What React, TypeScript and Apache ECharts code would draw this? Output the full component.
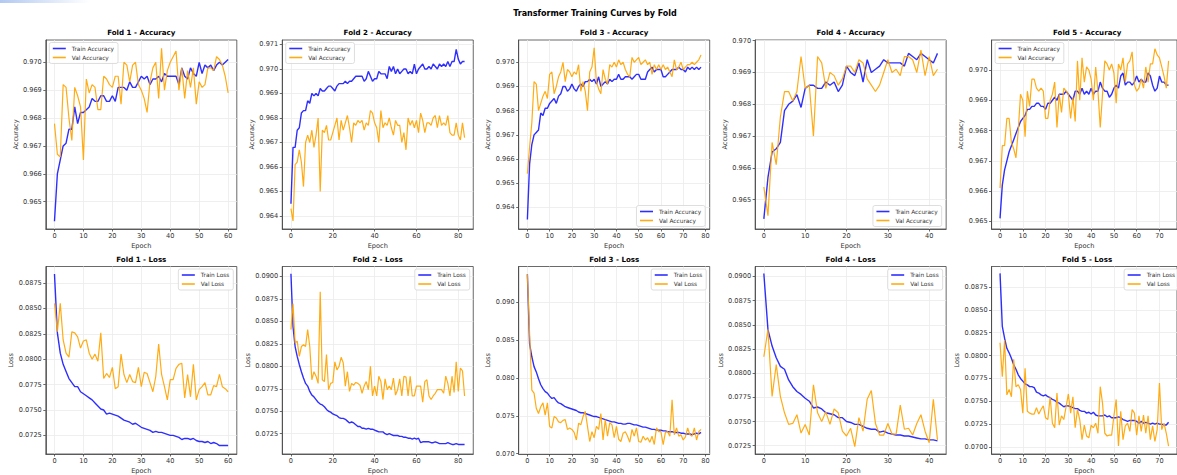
import React, { useEffect, useRef } from "react";
import * as echarts from "echarts";

// ---------------- data ----------------
const acc1Train = [0.9643,0.9660,0.9665,0.9670,0.9671,0.9676,0.9676,0.9684,0.9678,0.9682,
0.9682,0.9683,0.9684,0.9687,0.9686,0.9686,0.9688,0.9688,0.9686,0.9686,
0.9688,0.9686,0.9691,0.9691,0.9691,0.9690,0.9693,0.9691,0.9691,0.9693,
0.9695,0.9694,0.9695,0.9692,0.9694,0.9694,0.9695,0.9693,0.9696,0.9695,
0.9695,0.9695,0.9695,0.9692,0.9698,0.9695,0.9694,0.9698,0.9696,0.9695,
0.9700,0.9696,0.9699,0.9698,0.9699,0.9697,0.9699,0.9700,0.9699,0.9700,0.9701];
const acc1Val = [0.9678,0.9667,0.9666,0.9692,0.9691,0.9680,0.9672,0.9691,0.9688,0.9684,
0.9665,0.9694,0.9689,0.9692,0.9691,0.9683,0.9683,0.9695,0.9694,0.9692,
0.9691,0.9695,0.9695,0.9685,0.9700,0.9699,0.9693,0.9699,0.9700,0.9692,
0.9690,0.9687,0.9682,0.9693,0.9698,0.9700,0.9687,0.9705,0.9690,0.9697,
0.9700,0.9702,0.9704,0.9690,0.9698,0.9687,0.9697,0.9691,0.9698,0.9685,
0.9693,0.9691,0.9692,0.9698,0.9698,0.9697,0.9702,0.9701,0.9699,0.9695,0.9689];
const loss1Train = [0.0884,0.0826,0.0806,0.0795,0.0788,0.0781,0.0777,0.0773,0.0773,0.0768,
0.0766,0.0764,0.0762,0.0760,0.0757,0.0754,0.0751,0.0750,0.0746,0.0747,
0.0746,0.0745,0.0744,0.0742,0.0740,0.0739,0.0738,0.0736,0.0737,0.0735,
0.0733,0.0732,0.0731,0.0730,0.0728,0.0729,0.0728,0.0728,0.0727,0.0726,
0.0725,0.0725,0.0724,0.0723,0.0721,0.0722,0.0722,0.0721,0.0722,0.0720,
0.0719,0.0719,0.0718,0.0719,0.0717,0.0718,0.0717,0.0715,0.0715,0.0715,0.0715];
const loss1Val = [0.0855,0.0827,0.0855,0.0819,0.0806,0.0802,0.0827,0.0826,0.0822,0.0811,
0.0818,0.0819,0.0806,0.0800,0.0805,0.0798,0.0826,0.0781,0.0786,0.0782,
0.0792,0.0771,0.0773,0.0805,0.0785,0.0777,0.0785,0.0778,0.0777,0.0792,
0.0773,0.0787,0.0786,0.0777,0.0768,0.0783,0.0815,0.0785,0.0773,0.0760,
0.0780,0.0780,0.0791,0.0795,0.0796,0.0762,0.0785,0.0763,0.0795,0.0760,
0.0770,0.0773,0.0777,0.0765,0.0765,0.0774,0.0773,0.0785,0.0773,0.0771,0.0768];

const acc2Train = [0.9645,0.9668,0.9668,0.9675,0.9676,0.9682,0.9683,0.9683,0.9687,0.9686,
0.9690,0.9689,0.9690,0.9689,0.9692,0.9691,0.9691,0.9692,0.9693,0.9693,
0.9692,0.9691,0.9693,0.9694,0.9694,0.9694,0.9695,0.9694,0.9695,0.9695,
0.9696,0.9697,0.9697,0.9697,0.9697,0.9695,0.9696,0.9699,0.9697,0.9695,
0.9696,0.9696,0.9699,0.9698,0.9698,0.9698,0.9696,0.9701,0.9699,0.9701,
0.9698,0.9700,0.9698,0.9699,0.9700,0.9700,0.9698,0.9699,0.9698,0.9702,
0.9698,0.9700,0.9701,0.9702,0.9700,0.9700,0.9701,0.9700,0.9702,0.9701,
0.9700,0.9702,0.9701,0.9702,0.9701,0.9703,0.9701,0.9703,0.9703,0.9708,
0.9704,0.9702,0.9703,0.9703];
const acc2Val = [0.9643,0.9638,0.9661,0.9662,0.9667,0.9662,0.9652,0.9670,0.9673,0.9670,
0.9675,0.9668,0.9673,0.9680,0.9650,0.9675,0.9674,0.9677,0.9671,0.9671,
0.9674,0.9677,0.9680,0.9671,0.9679,0.9675,0.9678,0.9681,0.9676,0.9670,
0.9678,0.9677,0.9679,0.9678,0.9679,0.9675,0.9678,0.9677,0.9683,0.9682,
0.9678,0.9676,0.9670,0.9683,0.9676,0.9678,0.9677,0.9680,0.9676,0.9673,
0.9679,0.9677,0.9677,0.9670,0.9674,0.9667,0.9680,0.9677,0.9679,0.9676,
0.9679,0.9674,0.9682,0.9679,0.9674,0.9678,0.9678,0.9677,0.9680,0.9681,
0.9676,0.9681,0.9677,0.9678,0.9677,0.9681,0.9674,0.9673,0.9673,0.9678,
0.9673,0.9671,0.9678,0.9672];
const loss2Train = [0.0903,0.0844,0.0822,0.0811,0.0802,0.0794,0.0787,0.0781,0.0778,0.0772,
0.0768,0.0766,0.0763,0.0760,0.0758,0.0757,0.0755,0.0752,0.0750,0.0749,
0.0747,0.0746,0.0745,0.0743,0.0742,0.0742,0.0741,0.0739,0.0737,0.0738,
0.0737,0.0735,0.0733,0.0733,0.0731,0.0731,0.0730,0.0731,0.0730,0.0730,
0.0729,0.0728,0.0727,0.0727,0.0727,0.0725,0.0724,0.0725,0.0724,0.0723,
0.0723,0.0723,0.0722,0.0722,0.0721,0.0721,0.0720,0.0720,0.0719,0.0720,
0.0719,0.0720,0.0715,0.0716,0.0716,0.0716,0.0716,0.0715,0.0715,0.0716,
0.0715,0.0714,0.0714,0.0714,0.0714,0.0715,0.0714,0.0713,0.0713,0.0714,
0.0713,0.0713,0.0713,0.0713];
const loss2Val = [0.0841,0.0870,0.0826,0.0828,0.0811,0.0822,0.0824,0.0822,0.0841,0.0822,
0.0785,0.0794,0.0789,0.0781,0.0883,0.0785,0.0783,0.0813,0.0774,0.0781,
0.0782,0.0805,0.0796,0.0800,0.0810,0.0804,0.0778,0.0794,0.0772,0.0781,
0.0779,0.0782,0.0781,0.0779,0.0770,0.0778,0.0783,0.0774,0.0800,0.0767,
0.0778,0.0767,0.0789,0.0783,0.0763,0.0786,0.0774,0.0778,0.0774,0.0787,
0.0768,0.0774,0.0786,0.0767,0.0789,0.0788,0.0767,0.0789,0.0767,0.0767,
0.0778,0.0778,0.0778,0.0760,0.0783,0.0785,0.0767,0.0763,0.0767,0.0770,
0.0774,0.0774,0.0774,0.0770,0.0789,0.0781,0.0767,0.0789,0.0771,0.0805,
0.0772,0.0798,0.0795,0.0767];

const acc3Train = [0.9635,0.9658,0.9666,0.9670,0.9671,0.9672,0.9679,0.9678,0.9681,0.9681,
0.9683,0.9684,0.9685,0.9683,0.9686,0.9687,0.9690,0.9690,0.9688,0.9689,
0.9691,0.9689,0.9688,0.9690,0.9691,0.9690,0.9692,0.9692,0.9693,0.9692,
0.9693,0.9691,0.9694,0.9690,0.9691,0.9692,0.9691,0.9693,0.9692,0.9693,
0.9693,0.9695,0.9693,0.9693,0.9694,0.9694,0.9694,0.9693,0.9694,0.9695,
0.9695,0.9693,0.9693,0.9693,0.9696,0.9697,0.9698,0.9696,0.9697,0.9697,
0.9697,0.9694,0.9694,0.9695,0.9696,0.9697,0.9697,0.9697,0.9698,0.9697,
0.9697,0.9696,0.9698,0.9697,0.9698,0.9697,0.9698,0.9697,0.9698];
const acc3Val = [0.9654,0.9665,0.9675,0.9692,0.9691,0.9680,0.9683,0.9686,0.9688,0.9685,
0.9695,0.9696,0.9687,0.9690,0.9694,0.9696,0.9700,0.9692,0.9697,0.9696,
0.9694,0.9696,0.9695,0.9699,0.9688,0.9692,0.9688,0.9680,0.9696,0.9698,
0.9706,0.9692,0.9689,0.9687,0.9697,0.9693,0.9691,0.9699,0.9698,0.9700,
0.9698,0.9701,0.9699,0.9700,0.9697,0.9695,0.9694,0.9702,0.9700,0.9701,
0.9702,0.9699,0.9700,0.9701,0.9699,0.9700,0.9695,0.9699,0.9697,0.9699,
0.9697,0.9699,0.9697,0.9698,0.9696,0.9694,0.9701,0.9697,0.9698,0.9700,
0.9697,0.9698,0.9699,0.9699,0.9700,0.9699,0.9700,0.9701,0.9703];
const loss3Train = [0.0937,0.0845,0.0828,0.0815,0.0808,0.0799,0.0791,0.0786,0.0782,0.0780,
0.0776,0.0773,0.0774,0.0770,0.0767,0.0766,0.0764,0.0762,0.0761,0.0760,
0.0759,0.0758,0.0757,0.0755,0.0754,0.0754,0.0753,0.0752,0.0751,0.0750,
0.0749,0.0749,0.0748,0.0747,0.0746,0.0745,0.0744,0.0743,0.0742,0.0742,
0.0741,0.0740,0.0740,0.0739,0.0739,0.0740,0.0740,0.0739,0.0738,0.0738,
0.0737,0.0736,0.0735,0.0735,0.0734,0.0733,0.0732,0.0732,0.0731,0.0731,
0.0731,0.0730,0.0730,0.0729,0.0729,0.0729,0.0728,0.0728,0.0728,0.0727,
0.0727,0.0726,0.0726,0.0726,0.0725,0.0726,0.0727,0.0726,0.0728];
const loss3Val = [0.0937,0.0858,0.0784,0.0780,0.0760,0.0753,0.0762,0.0767,0.0751,0.0767,
0.0736,0.0734,0.0749,0.0747,0.0742,0.0741,0.0744,0.0745,0.0732,0.0734,
0.0732,0.0728,0.0718,0.0740,0.0738,0.0749,0.0756,0.0736,0.0716,0.0729,
0.0721,0.0736,0.0732,0.0753,0.0718,0.0745,0.0723,0.0741,0.0738,0.0721,
0.0736,0.0719,0.0716,0.0727,0.0729,0.0723,0.0715,0.0732,0.0723,0.0734,
0.0716,0.0715,0.0723,0.0718,0.0721,0.0715,0.0723,0.0712,0.0734,0.0729,
0.0729,0.0712,0.0728,0.0729,0.0723,0.0771,0.0725,0.0734,0.0723,0.0725,
0.0718,0.0722,0.0734,0.0725,0.0723,0.0734,0.0718,0.0729,0.0732];

const acc4Train = [0.9644,0.9657,0.9665,0.9666,0.9668,0.9678,0.9680,0.9681,0.9683,0.9679,
0.9685,0.9686,0.9686,0.9685,0.9685,0.9687,0.9686,0.9687,0.9684,0.9686,
0.9692,0.9690,0.9689,0.9693,0.9687,0.9694,0.9690,0.9691,0.9692,0.9694,
0.9693,0.9693,0.9693,0.9693,0.9692,0.9696,0.9695,0.9694,0.9696,0.9695,
0.9694,0.9693,0.9696];
const acc4Val = [0.9654,0.9645,0.9668,0.9661,0.9676,0.9684,0.9684,0.9681,0.9684,0.9695,
0.9685,0.9686,0.9670,0.9695,0.9693,0.9685,0.9690,0.9689,0.9686,0.9688,
0.9692,0.9692,0.9690,0.9694,0.9693,0.9688,0.9686,0.9684,0.9686,0.9690,
0.9694,0.9690,0.9691,0.9689,0.9695,0.9695,0.9694,0.9690,0.9697,0.9689,
0.9695,0.9689,0.9691];
const loss4Train = [0.0903,0.0845,0.0828,0.0816,0.0807,0.0804,0.0793,0.0786,0.0781,0.0778,
0.0774,0.0771,0.0764,0.0765,0.0763,0.0759,0.0758,0.0757,0.0754,0.0754,
0.0750,0.0749,0.0747,0.0747,0.0745,0.0743,0.0742,0.0742,0.0739,0.0740,
0.0738,0.0737,0.0736,0.0736,0.0735,0.0735,0.0734,0.0733,0.0732,0.0732,
0.0731,0.0731,0.0730];
const loss4Val = [0.0817,0.0845,0.0776,0.0809,0.0776,0.0759,0.0747,0.0748,0.0757,0.0738,
0.0747,0.0736,0.0788,0.0759,0.0750,0.0760,0.0747,0.0763,0.0759,0.0740,
0.0735,0.0743,0.0724,0.0754,0.0740,0.0773,0.0782,0.0748,0.0736,0.0736,
0.0748,0.0737,0.0737,0.0767,0.0742,0.0743,0.0736,0.0748,0.0757,0.0740,
0.0728,0.0773,0.0731];

const acc5Train = [0.9651,0.9662,0.9667,0.9670,0.9673,0.9675,0.9677,0.9679,0.9681,0.9683,
0.9684,0.9685,0.9687,0.9687,0.9688,0.9688,0.9689,0.9689,0.9688,0.9688,
0.9687,0.9689,0.9689,0.9690,0.9691,0.9690,0.9692,0.9692,0.9692,0.9693,
0.9692,0.9691,0.9690,0.9693,0.9693,0.9692,0.9694,0.9692,0.9693,0.9692,
0.9694,0.9692,0.9693,0.9693,0.9696,0.9694,0.9693,0.9693,0.9691,0.9692,
0.9694,0.9695,0.9694,0.9698,0.9699,0.9695,0.9696,0.9696,0.9695,0.9696,
0.9698,0.9696,0.9697,0.9696,0.9696,0.9699,0.9698,0.9695,0.9693,0.9694,
0.9698,0.9696,0.9696,0.9695,0.9695];
const acc5Val = [0.9661,0.9675,0.9675,0.9684,0.9684,0.9676,0.9674,0.9671,0.9680,0.9692,
0.9690,0.9678,0.9693,0.9688,0.9697,0.9697,0.9694,0.9693,0.9694,0.9693,
0.9684,0.9684,0.9690,0.9692,0.9696,0.9681,0.9692,0.9686,0.9694,0.9693,
0.9692,0.9684,0.9691,0.9683,0.9703,0.9690,0.9704,0.9696,0.9701,0.9700,
0.9697,0.9690,0.9701,0.9693,0.9681,0.9692,0.9703,0.9702,0.9700,0.9702,
0.9699,0.9689,0.9702,0.9700,0.9704,0.9696,0.9702,0.9703,0.9706,0.9695,
0.9693,0.9694,0.9697,0.9694,0.9701,0.9696,0.9702,0.9702,0.9707,0.9705,
0.9704,0.9701,0.9698,0.9694,0.9703];
const loss5Train = [0.0890,0.0832,0.0819,0.0808,0.0803,0.0797,0.0790,0.0785,0.0779,0.0775,
0.0772,0.0769,0.0768,0.0766,0.0766,0.0765,0.0760,0.0759,0.0757,0.0756,
0.0757,0.0755,0.0754,0.0752,0.0751,0.0749,0.0748,0.0746,0.0744,0.0745,
0.0745,0.0744,0.0743,0.0742,0.0742,0.0740,0.0739,0.0739,0.0737,0.0738,
0.0736,0.0738,0.0735,0.0734,0.0734,0.0734,0.0735,0.0733,0.0734,0.0732,
0.0732,0.0732,0.0733,0.0732,0.0730,0.0729,0.0728,0.0729,0.0729,0.0729,
0.0728,0.0726,0.0728,0.0726,0.0727,0.0726,0.0725,0.0726,0.0725,0.0726,
0.0725,0.0725,0.0724,0.0724,0.0727];
const loss5Val = [0.0814,0.0777,0.0817,0.0757,0.0763,0.0755,0.0796,0.0766,0.0768,0.0763,
0.0737,0.0786,0.0739,0.0737,0.0736,0.0736,0.0743,0.0736,0.0741,0.0745,
0.0732,0.0730,0.0755,0.0726,0.0721,0.0759,0.0724,0.0734,0.0730,0.0744,
0.0758,0.0737,0.0755,0.0721,0.0741,0.0730,0.0708,0.0724,0.0712,0.0710,
0.0724,0.0721,0.0726,0.0715,0.0766,0.0748,0.0715,0.0712,0.0713,0.0713,
0.0734,0.0752,0.0701,0.0739,0.0708,0.0723,0.0726,0.0717,0.0741,0.0737,
0.0713,0.0734,0.0717,0.0735,0.0715,0.0734,0.0708,0.0723,0.0706,0.0719,
0.0770,0.0719,0.0726,0.0715,0.0701];

const mainTitle = "Transformer Training Curves by Fold";
const foldNames = ["Fold 1", "Fold 2", "Fold 3", "Fold 4", "Fold 5"];
const accSeriesNames = ["Train Accuracy", "Val Accuracy"];
const lossSeriesNames = ["Train Loss", "Val Loss"];

// axis extents
const accRange = [[0.96402, 0.9708], [0.96347, 0.97118], [0.96311, 0.97092], [0.96408, 0.97002], [0.96475, 0.97099]];
const lossRange = [[0.07067, 0.08913], [0.07024, 0.09111], [0.06995, 0.09473], [0.07164, 0.09103], [0.06923, 0.08975]];
const lossStep = [0.0025, 0.0025, 0.005, 0.0025, 0.0025];
const xStep = [10, 20, 10, 10, 10];

const folds = [
  { acc: [acc1Train, acc1Val], loss: [loss1Train, loss1Val] },
  { acc: [acc2Train, acc2Val], loss: [loss2Train, loss2Val] },
  { acc: [acc3Train, acc3Val], loss: [loss3Train, loss3Val] },
  { acc: [acc4Train, acc4Val], loss: [loss4Train, loss4Val] },
  { acc: [acc5Train, acc5Val], loss: [loss5Train, loss5Val] },
];

// ---------------- layout ----------------
const W = 1177, H = 475;
const FONT = "DejaVu Sans";
const TRAIN_COLOR = "rgba(0,0,255,0.82)";
const VAL_COLOR = "rgba(255,165,0,0.92)";
const colLeft = [45.8, 282.25, 518.7, 755.15, 991.6];
const colWidth = 191;
const accTop = 40, accHeight = 189;
const lossTop = 266.5, lossHeight = 188;
const accLegendCorner = ["tl", "tl", "br", "br", "tl"];
const accNameGap = [26.5, 26.5, 26, 26.5, 27];
const lossNameGap = [29.5, 29.5, 26, 29, 30];

function ticks(min: number, max: number, step: number): number[] {
  const out: number[] = [];
  const start = Math.ceil(min / step - 1e-6);
  for (let k = start; k * step <= max + step * 1e-6; k++) out.push(+(k * step).toFixed(6));
  return out;
}

function buildOption() {
  const grid: any[] = [], xAxis: any[] = [], yAxis: any[] = [], series: any[] = [], legend: any[] = [];
  const title: any[] = [{
    text: mainTitle, left: 595, top: 9, textAlign: "center", padding: 0,
    textStyle: { fontFamily: FONT, fontSize: 8, fontWeight: "bold", color: "#000" },
  }];
  for (let r = 0; r < 2; r++) {
    for (let i = 0; i < 5; i++) {
      const isAcc = r === 0;
      const gi = r * 5 + i;
      const [tr, va] = isAcc ? folds[i].acc : folds[i].loss;
      const names = isAcc ? accSeriesNames : lossSeriesNames;
      const n = tr.length - 1;
      const left = colLeft[i];
      const top = isAcc ? accTop : lossTop;
      const height = isAcc ? accHeight : lossHeight;
      grid.push({ left, top, width: colWidth, height, show: true, borderColor: "#444", borderWidth: 0.8 });
      const xt = ticks(0, 1.05 * n, xStep[i]);
      xAxis.push({
        type: "value", gridIndex: gi, min: -0.05 * n, max: 1.05 * n,
        axisLine: { show: true, onZero: false, lineStyle: { color: "#444", width: 0.8 } },
        axisTick: { show: true, length: 2.5, customValues: xt, lineStyle: { color: "#444", width: 0.8 } },
        axisLabel: { customValues: xt, fontFamily: FONT, fontSize: 6.6, color: "#333", margin: 3.5 },
        splitLine: { show: true, lineStyle: { color: "#ebebeb", width: 0.8 } },
        name: "Epoch", nameLocation: "middle", nameGap: 13,
        nameTextStyle: { fontFamily: FONT, fontSize: 6.6, color: "#333" },
      });
      const [ymin, ymax] = isAcc ? accRange[i] : lossRange[i];
      const step = isAcc ? 0.001 : lossStep[i];
      const dec = isAcc ? 3 : step === 0.005 ? 3 : 4;
      const yt = ticks(ymin, ymax, step);
      yAxis.push({
        type: "value", gridIndex: gi, min: ymin, max: ymax,
        axisLine: { show: true, onZero: false, lineStyle: { color: "#444", width: 0.8 } },
        axisTick: { show: true, length: 2.5, customValues: yt, lineStyle: { color: "#444", width: 0.8 } },
        axisLabel: {
          customValues: yt, fontFamily: FONT, fontSize: 6.6, color: "#333", margin: 4,
          formatter: (v: number) => v.toFixed(dec),
        },
        splitLine: { show: true, lineStyle: { color: "#ebebeb", width: 0.8 } },
        name: isAcc ? "Accuracy" : "Loss", nameLocation: "middle",
        nameGap: isAcc ? accNameGap[i] : lossNameGap[i],
        nameTextStyle: { fontFamily: FONT, fontSize: 6.6, color: "#333" },
      });
      series.push({
        type: "line", name: names[0], xAxisIndex: gi, yAxisIndex: gi, symbol: "none", showSymbol: false,
        data: tr.map((v, k) => [k, v]), lineStyle: { color: TRAIN_COLOR, width: 1.4 }, itemStyle: { color: TRAIN_COLOR },
        z: 2,
      });
      series.push({
        type: "line", name: names[1], xAxisIndex: gi, yAxisIndex: gi, symbol: "none", showSymbol: false,
        data: va.map((v, k) => [k, v]), lineStyle: { color: VAL_COLOR, width: 1.2 }, itemStyle: { color: VAL_COLOR },
        z: 3,
      });
      title.push({
        text: `${foldNames[i]} - ${isAcc ? "Accuracy" : "Loss"}`,
        left: left + colWidth / 2, top: top - 11, textAlign: "center", padding: 0,
        textStyle: { fontFamily: FONT, fontSize: 7.1, fontWeight: "bold", color: "#000" },
      });
      const gridRight = left + colWidth, gridBottom = top + height;
      const pos: any = {};
      const corner = isAcc ? accLegendCorner[i] : "tr";
      if (corner === "tl") { pos.left = left + 3.5; pos.top = top + 2.5; }
      if (corner === "tr") { pos.right = W - (gridRight - 3.5); pos.top = top + 2.5; }
      if (corner === "br") { pos.right = W - (gridRight - 4.5); pos.bottom = H - (gridBottom - 2.5); }
      legend.push({
        ...pos, orient: "vertical", data: names, selectedMode: false, icon: "rect",
        itemWidth: 13, itemHeight: 1.6, itemGap: 3, padding: [3, 4, 3, 3.5],
        backgroundColor: "rgba(255,255,255,0.85)", borderColor: "#d6d6d6", borderWidth: 0.8, borderRadius: 2,
        textStyle: { fontFamily: FONT, fontSize: 5.8, color: "#333", padding: [0, 0, 0, 1] },
      });
    }
  }
  return {
    animation: false,
    backgroundColor: "#fff",
    title, grid, xAxis, yAxis, series, legend,
    graphic: [{
      type: "rect", left: 0, top: 0, shape: { x: 0, y: 0, width: 90, height: 3 }, silent: true,
      style: { fill: new echarts.graphic.LinearGradient(0, 0, 1, 0, [
        { offset: 0, color: "rgba(170,195,240,0.9)" }, { offset: 1, color: "rgba(170,195,240,0)" },
      ]) },
    }],
  };
}

export default function App() {
  const ref = useRef<HTMLDivElement>(null);
  useEffect(() => {
    if (!ref.current) return;
    const chart = echarts.init(ref.current, null, { renderer: "svg" });
    chart.setOption(buildOption() as any);
    return () => chart.dispose();
  }, []);
  return <div ref={ref} style={{ position: "fixed", left: 0, top: 0, width: W, height: H, background: "#fff" }} />;
}
